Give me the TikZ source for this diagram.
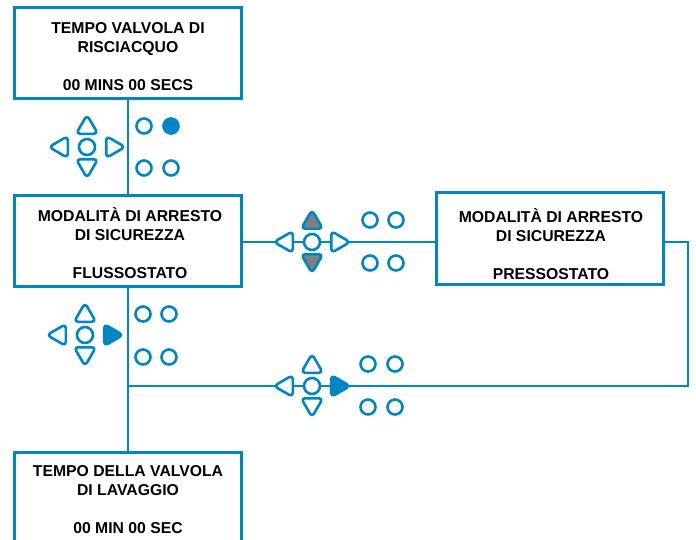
\documentclass[tikz,border=0pt]{standalone}
\usepackage{fontspec}
\setmainfont{Liberation Sans}
\usetikzlibrary{shapes.geometric}
\definecolor{panelblue}{RGB}{0,133,197}
\definecolor{keygrey}{RGB}{128,128,128}
\tikzset{screen/.style={draw=panelblue,line width=0.075cm,fill=white,minimum width=5.65cm,minimum height=2.275cm,inner sep=0},
screen text/.style={font=\bfseries\fontsize{11.2}{13.5}\selectfont,align=center,inner sep=0},
link/.style={draw=panelblue,line width=0.068cm},
key ring/.style={circle,draw=panelblue,line width=0.065cm,fill=white,minimum size=0.4cm,inner sep=0},
key lamp/.style={circle,draw=panelblue,line width=0.065cm,fill=white,minimum size=0.375cm,inner sep=0},
key arrow/.style={regular polygon,regular polygon sides=3,draw=panelblue,line width=0.065cm,line join=round,fill=white,rounded corners=0.1cm,minimum size=0.63cm,inner sep=0}}

\begin{document}
\begin{tikzpicture}[x=0.025cm,y=-0.025cm]
\useasboundingbox (0,0) rectangle (696,539);
\clip (0,0) rectangle (696,539);

%% screens
\node [screen] (b1) at (128,53) {};
\node [screen] (b2) at (128,241) {};
\node [screen] (b3) at (550,238.5) {};
\node [screen] (b4) at (128,498) {};

%% screen texts
\node [screen text] (t1) at (128,56.5) {TEMPO VALVOLA DI\\RISCIACQUO\\[13.5pt]00 MINS 00 SECS};
\node [screen text] (t2) at (130,243) {MODALIT\`A DI ARRESTO\\DI SICUREZZA\\[13.5pt]FLUSSOSTATO};
\node [screen text] (t3) at (551,244) {MODALIT\`A DI ARRESTO\\DI SICUREZZA\\[13.5pt]PRESSOSTATO};
\node [screen text] (t4) at (128,500) {TEMPO DELLA VALVOLA\\DI LAVAGGIO\\[13.5pt]00 MIN 00 SEC};

%% keypad centres
\coordinate (k1) at (87,147);
\coordinate (k2) at (312,242);
\coordinate (k3) at (85,335);
\coordinate (k4) at (312,386);

%% return path corners
\coordinate (r1) at (688,242);
\coordinate (r2) at (688,386);

%% links
\draw [link] (b1.south) -- (b2.north);
\draw [link] (b2.south) -- (b4.north);
\draw [link] (b2.east |- k2) -- (b3.west |- k2);
\draw [link] (b3.east |- r1) -- (r1) -- (r2) -- (r2 -| b2.south);

%% keypad 1
\node [key ring] (k1o) at (k1) {};
\node [key arrow] (k1u) at ([shift={(0,-19.5)}]k1) {};
\node [key arrow,shape border rotate=180] (k1d) at ([shift={(0,18.5)}]k1) {};
\node [key arrow,shape border rotate=90] (k1l) at ([shift={(-25.5,0)}]k1) {};
\node [key arrow,shape border rotate=270] (k1r) at ([shift={(25.5,0)}]k1) {};
\node [key lamp] (k1a) at ([shift={(57,-21)}]k1) {};
\node [key lamp,fill=panelblue] (k1b) at ([shift={(84,-21)}]k1) {};
\node [key lamp] (k1e) at ([shift={(57,21)}]k1) {};
\node [key lamp] (k1f) at ([shift={(84,21)}]k1) {};

%% keypad 2
\node [key ring] (k2o) at (k2) {};
\node [key arrow,fill=keygrey] (k2u) at ([shift={(0,-19.5)}]k2) {};
\node [key arrow,fill=keygrey,shape border rotate=180] (k2d) at ([shift={(0,18.5)}]k2) {};
\node [key arrow,shape border rotate=90] (k2l) at ([shift={(-25.5,0)}]k2) {};
\node [key arrow,shape border rotate=270] (k2r) at ([shift={(25.5,0)}]k2) {};
\node [key lamp] (k2a) at ([shift={(58,-22)}]k2) {};
\node [key lamp] (k2b) at ([shift={(84,-22)}]k2) {};
\node [key lamp] (k2e) at ([shift={(58,21)}]k2) {};
\node [key lamp] (k2f) at ([shift={(84,21)}]k2) {};

%% keypad 3
\node [key ring] (k3o) at (k3) {};
\node [key arrow] (k3u) at ([shift={(0,-19.5)}]k3) {};
\node [key arrow,shape border rotate=180] (k3d) at ([shift={(0,18.5)}]k3) {};
\node [key arrow,shape border rotate=90] (k3l) at ([shift={(-25.5,0)}]k3) {};
\node [key arrow,fill=panelblue,shape border rotate=270] (k3r) at ([shift={(25.5,0)}]k3) {};
\node [key lamp] (k3a) at ([shift={(58,-21)}]k3) {};
\node [key lamp] (k3b) at ([shift={(84,-21)}]k3) {};
\node [key lamp] (k3e) at ([shift={(58,22)}]k3) {};
\node [key lamp] (k3f) at ([shift={(84,22)}]k3) {};

%% keypad 4
\node [key ring] (k4o) at (k4) {};
\node [key arrow] (k4u) at ([shift={(0,-19.5)}]k4) {};
\node [key arrow,shape border rotate=180] (k4d) at ([shift={(0,18.5)}]k4) {};
\node [key arrow,shape border rotate=90] (k4l) at ([shift={(-25.5,0)}]k4) {};
\node [key arrow,fill=panelblue,shape border rotate=270] (k4r) at ([shift={(25.5,0)}]k4) {};
\node [key lamp] (k4a) at ([shift={(56,-22)}]k4) {};
\node [key lamp] (k4b) at ([shift={(83,-22)}]k4) {};
\node [key lamp] (k4e) at ([shift={(56,21)}]k4) {};
\node [key lamp] (k4f) at ([shift={(83,21)}]k4) {};

\end{tikzpicture}
\end{document}
